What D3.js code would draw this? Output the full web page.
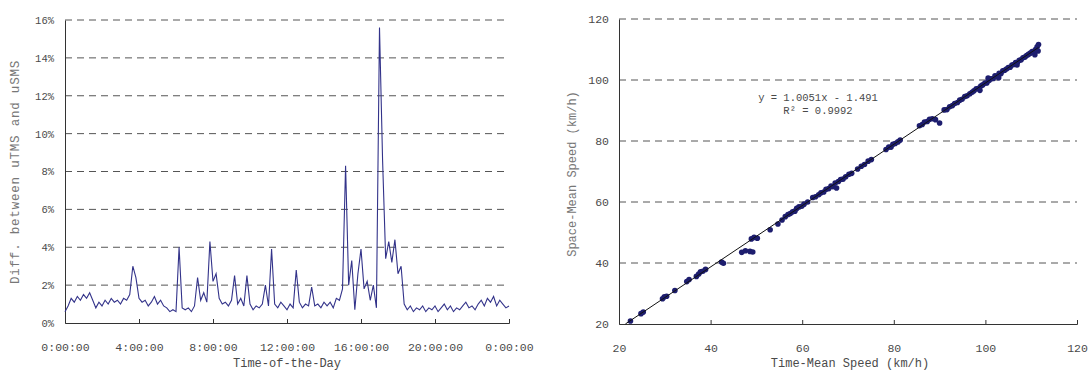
<!DOCTYPE html>
<html>
<head>
<meta charset="utf-8">
<script src="https://cdn.jsdelivr.net/npm/d3@7"></script>
<style>
  body { margin: 0; background: #fff; }
  svg text { font-family: "Liberation Mono", "DejaVu Sans Mono", monospace; fill: #4a4a4a; }
</style>
</head>
<body>
<div id="chart"></div>
<script>
// ---- left chart: difference between uTMS and uSMS over the day (10 min samples) ----
const diffStepMinutes = 10;
const diffValues = [
  0.6, 0.9, 1.3, 1.1, 1.4, 1.2, 1.5, 1.3, 1.6, 1.2,
  0.8, 1.1, 0.9, 1.2, 1.0, 1.3, 1.1, 1.2, 1.0, 1.3,
  1.2, 1.5, 3.0, 2.4, 1.3, 1.1, 1.2, 0.9, 1.1, 1.4,
  1.0, 1.2, 0.9, 0.8, 0.6, 0.7, 0.6, 4.0, 0.8, 0.7,
  0.8, 0.6, 0.9, 2.4, 1.2, 1.6, 1.1, 4.3, 2.2, 2.6,
  1.3, 1.0, 1.1, 0.9, 1.2, 2.5, 1.0, 1.3, 0.9, 2.5,
  1.0, 0.7, 0.9, 0.8, 1.0, 2.0, 0.9, 3.9, 1.0, 0.8,
  1.1, 0.9, 0.7, 1.0, 0.8, 2.8, 1.1, 0.8, 1.0, 0.9,
  1.9, 0.9, 1.0, 0.8, 1.1, 0.9, 1.1, 0.8, 1.3, 1.2,
  1.8, 8.3, 2.0, 3.3, 0.7, 2.6, 3.9, 1.8, 2.2, 1.2,
  2.0, 0.8, 15.6, 8.6, 3.4, 4.3, 3.2, 4.4, 2.6, 3.0,
  1.0, 0.7, 0.9, 0.6, 0.8, 0.7, 0.9, 0.6, 0.8, 0.7,
  0.9, 0.6, 0.8, 1.0, 0.7, 0.9, 0.6, 0.8, 0.7, 0.9,
  1.1, 0.8, 0.9, 0.7, 1.0, 1.2, 0.9, 1.3, 1.1, 1.4,
  0.9, 1.2, 1.0, 0.8, 0.9
];
const diffTicksMinutes = [0, 240, 480, 720, 960, 1200, 1440];
const diffTickLabels = ["0:00:00", "4:00:00", "8:00:00", "12:00:00", "16:00:00", "20:00:00", "0:00:00"];
const diffYTicks = [0, 2, 4, 6, 8, 10, 12, 14, 16];

// ---- right chart: time-mean vs space-mean speed ----
const tmsValues = [
  22.5, 24.8, 25.3, 29.5, 29.9, 30.4, 32.2, 34.8, 35.3, 36.9,
  37.4, 37.8, 38.3, 38.9, 42.4, 42.8, 46.8, 47.6, 48.6, 49.2,
  48.9, 49.5, 50.2, 53.0, 54.7, 55.6, 56.3, 56.9, 57.4, 57.9,
  58.4, 58.8, 59.3, 59.9, 60.4, 61.2, 62.3, 62.9, 63.6, 64.1,
  64.7, 65.2, 65.8, 66.3, 66.7, 67.2, 67.5, 67.9, 68.4, 68.9,
  69.5, 70.2, 70.8, 72.1, 72.9, 73.6, 74.4, 75.1, 78.3, 78.9,
  79.4, 79.8, 80.3, 80.9, 81.4, 85.6, 86.2, 86.7, 87.3, 87.8,
  88.4, 89.1, 90.0, 91.0, 91.6, 92.2, 92.8, 93.3, 93.9, 94.4,
  94.9, 95.5, 96.0, 96.6, 97.1, 97.5, 98.0, 98.5, 99.0, 99.4,
  99.9, 100.3, 100.8, 101.2, 101.7, 102.1, 102.5, 103.0, 103.4, 103.8,
  104.2, 104.6, 105.0, 105.4, 105.8, 106.2, 106.6, 107.0, 107.4, 107.8,
  108.2, 108.6, 109.0, 109.4, 109.8, 110.2, 110.6, 111.0, 111.3, 111.6,
  111.5, 110.8, 106.9, 102.9, 100.6, 98.8
];
const smsValues = [
  21.0, 23.4, 23.9, 28.3, 28.9, 29.1, 31.0, 33.9, 34.6, 35.6,
  36.4, 37.1, 37.3, 37.9, 40.3, 39.9, 43.5, 44.0, 43.8, 43.6,
  47.9, 48.4, 48.1, 50.9, 52.8, 54.1, 55.2, 55.9, 56.2, 56.8,
  57.0, 57.9, 58.4, 58.6, 59.3, 60.0, 61.5, 61.7, 62.4, 63.0,
  63.3, 64.2, 64.4, 65.2, 65.0, 66.2, 64.6, 66.7, 67.4, 67.5,
  68.3, 69.1, 69.4, 70.8, 71.7, 72.3, 73.4, 73.9, 77.2, 78.0,
  78.0, 78.9, 79.2, 79.7, 80.3, 85.0, 85.4, 86.2, 86.4, 87.1,
  87.3, 87.0, 85.9, 90.2, 90.3, 91.2, 91.6, 92.3, 92.6, 93.4,
  93.7, 94.6, 94.8, 95.5, 96.0, 96.5, 97.1, 97.3, 98.0, 98.4,
  99.0, 99.0, 99.8, 100.4, 100.5, 101.4, 101.2, 102.2, 102.1, 103.0,
  103.2, 103.6, 104.1, 104.2, 104.9, 105.1, 105.7, 105.8, 106.5, 106.6,
  107.3, 107.5, 108.0, 108.4, 108.8, 109.3, 109.4, 110.1, 110.9, 111.6,
  109.5, 108.3, 104.9, 100.7, 100.6, 96.6
];
const fitSlope = 1.0051;
const fitIntercept = -1.491;
const fitRange = [21.4, 111.6];
const speedTicks = [20, 40, 60, 80, 100, 120];

const svg = d3.select("#chart").append("svg")
  .attr("width", 1088).attr("height", 376);

const gridColor = "#555";
const axisColor = "#333";

// ================= left chart =================
const x1 = d3.scaleLinear().domain([0, 1440]).range([65, 509]);
const y1 = d3.scaleLinear().domain([0, 16]).range([323, 20]);

const left = svg.append("g");

left.selectAll(".grid").data(diffYTicks.slice(1)).enter().append("line")
  .attr("x1", x1(0)).attr("x2", x1(1440))
  .attr("y1", d => y1(d)).attr("y2", d => y1(d))
  .attr("stroke", gridColor).attr("stroke-dasharray", "7,5");

const xAxis1 = d3.axisBottom(x1).tickValues(diffTicksMinutes)
  .tickSize(-4).tickFormat((d, i) => diffTickLabels[i]).tickPadding(20);
left.append("g").attr("transform", `translate(0,${y1(0)})`).call(xAxis1)
  .call(g => g.selectAll("path, line").attr("stroke", axisColor))
  .call(g => g.selectAll("text").attr("font-size", 11.5).attr("font-family", null));

const yAxis1 = d3.axisLeft(y1).tickValues(diffYTicks).tickSize(0)
  .tickFormat(d => d + "%").tickPadding(11);
left.append("g").attr("transform", `translate(${x1(0)},0)`).call(yAxis1)
  .call(g => g.select(".domain").attr("stroke", axisColor))
  .call(g => g.selectAll("text").attr("font-size", 10.5).attr("font-family", null));

const diffLine = d3.line()
  .x((d, i) => x1(i * diffStepMinutes))
  .y(d => y1(d));
left.append("path").datum(diffValues)
  .attr("d", diffLine)
  .attr("fill", "none").attr("stroke", "#33338a").attr("stroke-width", 1.1);

left.append("text").attr("x", 287).attr("y", 367).attr("text-anchor", "middle")
  .attr("font-size", 12).text("Time-of-the-Day");
left.append("text").attr("transform", "translate(19,172) rotate(-90)")
  .attr("text-anchor", "middle").attr("font-size", 12.5).style("fill", "#777")
  .attr("letter-spacing", 0.8)
  .text("Diff. between uTMS and uSMS");

// ================= right chart =================
const x2 = d3.scaleLinear().domain([20, 120]).range([619, 1077]);
const y2 = d3.scaleLinear().domain([20, 120]).range([324, 19]);

const right = svg.append("g");

right.selectAll(".grid").data(speedTicks.slice(1)).enter().append("line")
  .attr("x1", x2(20)).attr("x2", x2(120))
  .attr("y1", d => y2(d)).attr("y2", d => y2(d))
  .attr("stroke", gridColor).attr("stroke-dasharray", "7,5");

const xAxis2 = d3.axisBottom(x2).tickValues(speedTicks).tickSize(-4).tickPadding(20);
right.append("g").attr("transform", `translate(0,${y2(20)})`).call(xAxis2)
  .call(g => g.selectAll("path, line").attr("stroke", axisColor))
  .call(g => g.selectAll("text").attr("font-size", 11.5).attr("font-family", null));

const yAxis2 = d3.axisLeft(y2).tickValues(speedTicks).tickSize(0).tickPadding(10);
right.append("g").attr("transform", `translate(${x2(20)},0)`).call(yAxis2)
  .call(g => g.select(".domain").attr("stroke", axisColor))
  .call(g => g.selectAll("text").attr("font-size", 11.5).attr("font-family", null));

right.selectAll(".pt").data(tmsValues).enter().append("circle")
  .attr("cx", d => x2(d))
  .attr("cy", (d, i) => y2(smsValues[i]))
  .attr("r", 2.8)
  .attr("fill", "#1d1d6e");

right.append("line")
  .attr("x1", x2(fitRange[0])).attr("y1", y2(fitSlope * fitRange[0] + fitIntercept))
  .attr("x2", x2(fitRange[1])).attr("y2", y2(fitSlope * fitRange[1] + fitIntercept))
  .attr("stroke", "#111").attr("stroke-width", 1);

right.append("text").attr("x", 818).attr("y", 101).attr("text-anchor", "middle")
  .attr("font-size", 10.5).text("y = 1.0051x - 1.491");
right.append("text").attr("x", 818).attr("y", 114).attr("text-anchor", "middle")
  .attr("font-size", 10.5).text("R² = 0.9992");

right.append("text").attr("x", 850).attr("y", 367).attr("text-anchor", "middle")
  .attr("font-size", 12).text("Time-Mean Speed (km/h)");
right.append("text").attr("transform", "translate(576,174) rotate(-90)")
  .attr("text-anchor", "middle").attr("font-size", 12).style("fill", "#777")
  .text("Space-Mean Speed (km/h)");
</script>
</body>
</html>
